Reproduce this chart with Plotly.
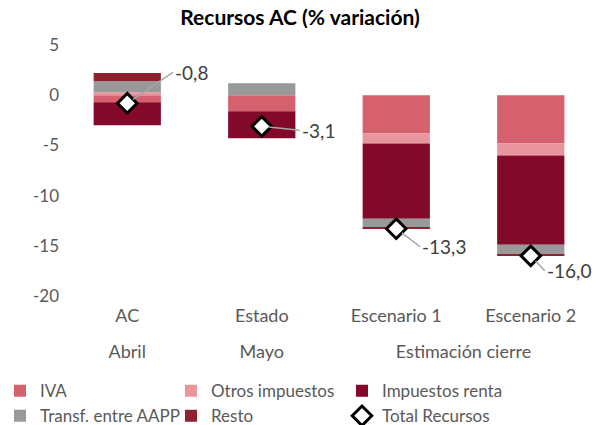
import plotly.graph_objects as go

periods = ["Abril", "Mayo", "Estimación cierre", "Estimación cierre"]
groups = ["AC", "Estado", "Escenario 1", "Escenario 2"]

iva = [-0.7, -1.6, -3.8, -4.8]
otros = [0.3, 0.0, -1.0, -1.2]
renta = [-2.3, -2.7, -7.5, -8.9]
transf = [1.1, 1.2, -0.9, -1.0]
resto = [0.8, 0.0, -0.1, -0.1]
total = [-0.8, -3.1, -13.3, -16.0]

y_ticks = [5, 0, -5, -10, -15, -20]

series = [
    ("IVA", iva, "#D6616E"),
    ("Otros impuestos", otros, "#E8959E"),
    ("Impuestos renta", renta, "#82092A"),
    ("Transf. entre AAPP", transf, "#999999"),
    ("Resto", resto, "#8E2230"),
]

x = [periods, [g + "<br><span style='font-size:1px'>&nbsp;</span>" for g in groups]]
font_family = "Lato, 'Open Sans', sans-serif"

fig = go.Figure()
for name, vals, col in series:
    fig.add_trace(go.Bar(x=x, y=vals, name=name, marker=dict(color=col, line=dict(width=0)),
                         width=0.5))
fig.add_trace(go.Scatter(x=x, y=total, name="Total Recursos", mode="markers",
                         marker=dict(symbol="diamond", size=15, color="white",
                                     line=dict(color="black", width=3))))

offsets = [(46, -31), (38, 4), (24, 18), (14, 15)]
for i, (v, (ax, ay)) in enumerate(zip(total, offsets)):
    fig.add_annotation(x=i, y=v, text=f"{v:.1f}".replace(".", ","), showarrow=True,
                       arrowhead=0, arrowwidth=1.5, arrowcolor="#A6A6A6", ax=ax, ay=ay,
                       font=dict(size=19, color="#404040", family=font_family),
                       xanchor="left", standoff=7)

fig.update_layout(
    width=600, height=425,
    barmode="relative",
    bargap=0.5,
    plot_bgcolor="white", paper_bgcolor="white",
    font=dict(family=font_family, color="#595959", size=17),
    title=dict(text="<b>Recursos AC (% variación)</b>", x=0.5, xanchor="center",
               y=0.975, yanchor="top", font=dict(size=21, color="black", family=font_family)),
    margin=dict(l=60, r=2, t=45, b=129, autoexpand=False),
    showlegend=True,
    legend=dict(orientation="h", xref="container", x=0.0, yref="container", y=0.122,
                yanchor="top", entrywidth=126, traceorder="normal",
                font=dict(size=17, color="#595959"), itemwidth=30, tracegroupgap=0),
    xaxis=dict(type="multicategory", showdividers=False, showline=False, ticks="",
               showgrid=False, automargin=False, ticklabelstandoff=7,
               tickfont=dict(size=18, color="#595959")),
    yaxis=dict(range=[-20, 5], tickvals=y_ticks, ticktext=[str(t) for t in y_ticks],
               showgrid=False, zeroline=False, showline=False, automargin=False,
               ticks="", tickfont=dict(size=17, color="#595959")),
)
fig.write_html("out.html", config={"displayModeBar": False},
               post_script="document.body.style.margin='0';")
